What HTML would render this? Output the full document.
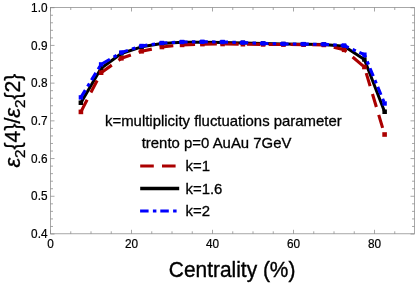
<!DOCTYPE html>
<html><head><meta charset="utf-8"><style>
html,body{margin:0;padding:0;background:#fff;}
svg{display:block;will-change:transform;font-family:"Liberation Sans",sans-serif;}
</style></head><body>
<svg width="415" height="283" viewBox="0 0 415 283">
<rect width="415" height="283" fill="#fff"/>
<g fill="none" stroke="#8a8a8a" stroke-width="0.75">
<rect x="50.5" y="7.5" width="364.0" height="226.3"/>
<path d="M50.50 233.8 v-4 M50.50 7.5 v4"/><path d="M70.75 233.8 v-2.5 M70.75 7.5 v2.5"/><path d="M91.00 233.8 v-2.5 M91.00 7.5 v2.5"/><path d="M111.25 233.8 v-2.5 M111.25 7.5 v2.5"/><path d="M131.50 233.8 v-4 M131.50 7.5 v4"/><path d="M151.75 233.8 v-2.5 M151.75 7.5 v2.5"/><path d="M172.00 233.8 v-2.5 M172.00 7.5 v2.5"/><path d="M192.25 233.8 v-2.5 M192.25 7.5 v2.5"/><path d="M212.50 233.8 v-4 M212.50 7.5 v4"/><path d="M232.75 233.8 v-2.5 M232.75 7.5 v2.5"/><path d="M253.00 233.8 v-2.5 M253.00 7.5 v2.5"/><path d="M273.25 233.8 v-2.5 M273.25 7.5 v2.5"/><path d="M293.50 233.8 v-4 M293.50 7.5 v4"/><path d="M313.75 233.8 v-2.5 M313.75 7.5 v2.5"/><path d="M334.00 233.8 v-2.5 M334.00 7.5 v2.5"/><path d="M354.25 233.8 v-2.5 M354.25 7.5 v2.5"/><path d="M374.50 233.8 v-4 M374.50 7.5 v4"/><path d="M394.75 233.8 v-2.5 M394.75 7.5 v2.5"/><path d="M50.5 234.00 h4 M414.5 234.00 h-4"/><path d="M50.5 226.46 h2.5 M414.5 226.46 h-2.5"/><path d="M50.5 218.91 h2.5 M414.5 218.91 h-2.5"/><path d="M50.5 211.37 h2.5 M414.5 211.37 h-2.5"/><path d="M50.5 203.83 h2.5 M414.5 203.83 h-2.5"/><path d="M50.5 196.28 h4 M414.5 196.28 h-4"/><path d="M50.5 188.74 h2.5 M414.5 188.74 h-2.5"/><path d="M50.5 181.20 h2.5 M414.5 181.20 h-2.5"/><path d="M50.5 173.65 h2.5 M414.5 173.65 h-2.5"/><path d="M50.5 166.11 h2.5 M414.5 166.11 h-2.5"/><path d="M50.5 158.57 h4 M414.5 158.57 h-4"/><path d="M50.5 151.02 h2.5 M414.5 151.02 h-2.5"/><path d="M50.5 143.48 h2.5 M414.5 143.48 h-2.5"/><path d="M50.5 135.94 h2.5 M414.5 135.94 h-2.5"/><path d="M50.5 128.39 h2.5 M414.5 128.39 h-2.5"/><path d="M50.5 120.85 h4 M414.5 120.85 h-4"/><path d="M50.5 113.31 h2.5 M414.5 113.31 h-2.5"/><path d="M50.5 105.76 h2.5 M414.5 105.76 h-2.5"/><path d="M50.5 98.22 h2.5 M414.5 98.22 h-2.5"/><path d="M50.5 90.68 h2.5 M414.5 90.68 h-2.5"/><path d="M50.5 83.13 h4 M414.5 83.13 h-4"/><path d="M50.5 75.59 h2.5 M414.5 75.59 h-2.5"/><path d="M50.5 68.05 h2.5 M414.5 68.05 h-2.5"/><path d="M50.5 60.50 h2.5 M414.5 60.50 h-2.5"/><path d="M50.5 52.96 h2.5 M414.5 52.96 h-2.5"/><path d="M50.5 45.42 h4 M414.5 45.42 h-4"/><path d="M50.5 37.87 h2.5 M414.5 37.87 h-2.5"/><path d="M50.5 30.33 h2.5 M414.5 30.33 h-2.5"/><path d="M50.5 22.79 h2.5 M414.5 22.79 h-2.5"/><path d="M50.5 15.24 h2.5 M414.5 15.24 h-2.5"/><path d="M50.5 7.70 h4 M414.5 7.70 h-4"/>
</g>
<g fill="#000" stroke="#000" stroke-width="0.2"><text transform="translate(50.50,247.90) scale(1,1.1)" font-size="11.8" text-anchor="middle" >0</text><text transform="translate(131.50,247.90) scale(1,1.1)" font-size="11.8" text-anchor="middle" >20</text><text transform="translate(212.50,247.90) scale(1,1.1)" font-size="11.8" text-anchor="middle" >40</text><text transform="translate(293.50,247.90) scale(1,1.1)" font-size="11.8" text-anchor="middle" >60</text><text transform="translate(374.50,247.90) scale(1,1.1)" font-size="11.8" text-anchor="middle" >80</text><text transform="translate(47.50,238.10) scale(1,1.1)" font-size="11.8" text-anchor="end" >0.4</text><text transform="translate(47.50,200.38) scale(1,1.1)" font-size="11.8" text-anchor="end" >0.5</text><text transform="translate(47.50,162.67) scale(1,1.1)" font-size="11.8" text-anchor="end" >0.6</text><text transform="translate(47.50,124.95) scale(1,1.1)" font-size="11.8" text-anchor="end" >0.7</text><text transform="translate(47.50,87.23) scale(1,1.1)" font-size="11.8" text-anchor="end" >0.8</text><text transform="translate(47.50,49.52) scale(1,1.1)" font-size="11.8" text-anchor="end" >0.9</text><text transform="translate(47.50,11.80) scale(1,1.1)" font-size="11.8" text-anchor="end" >1.0</text></g>
<polyline points="80.9,102.7 101.1,68.3 121.4,53.5 141.6,46.8 161.9,43.5 182.1,42.3 202.4,42.2 222.6,42.4 242.9,42.9 263.1,43.5 283.4,44.0 303.6,44.3 323.9,44.5 344.1,46.2 364.4,59.5 384.6,111.7" fill="none" stroke="#000" stroke-width="3.0" stroke-linejoin="round"/>
<rect x="78.6" y="100.5" width="4.5" height="4.5" fill="#000"/><rect x="98.9" y="66.0" width="4.5" height="4.5" fill="#000"/><rect x="119.1" y="51.2" width="4.5" height="4.5" fill="#000"/><rect x="139.4" y="44.5" width="4.5" height="4.5" fill="#000"/><rect x="159.6" y="41.2" width="4.5" height="4.5" fill="#000"/><rect x="179.9" y="40.0" width="4.5" height="4.5" fill="#000"/><rect x="200.1" y="40.0" width="4.5" height="4.5" fill="#000"/><rect x="220.4" y="40.1" width="4.5" height="4.5" fill="#000"/><rect x="240.6" y="40.6" width="4.5" height="4.5" fill="#000"/><rect x="260.9" y="41.2" width="4.5" height="4.5" fill="#000"/><rect x="281.1" y="41.8" width="4.5" height="4.5" fill="#000"/><rect x="301.4" y="42.0" width="4.5" height="4.5" fill="#000"/><rect x="321.6" y="42.2" width="4.5" height="4.5" fill="#000"/><rect x="341.9" y="44.0" width="4.5" height="4.5" fill="#000"/><rect x="362.1" y="57.2" width="4.5" height="4.5" fill="#000"/><rect x="382.4" y="109.5" width="4.5" height="4.5" fill="#000"/>
<polyline points="80.9,111.9 101.1,72.7 121.4,58.3 141.6,51.3 161.9,47.0 182.1,44.9 202.4,44.1 222.6,44.0 242.9,44.2 263.1,44.4 283.4,44.5 303.6,44.6 323.9,44.9 344.1,49.8 364.4,67.0 384.6,134.5" fill="none" stroke="#ab0000" stroke-width="3.1" stroke-dasharray="13.6 8.2" stroke-linejoin="round"/>
<rect x="78.6" y="109.6" width="4.6" height="4.6" fill="#ab0000"/><rect x="98.8" y="70.4" width="4.6" height="4.6" fill="#ab0000"/><rect x="119.1" y="56.0" width="4.6" height="4.6" fill="#ab0000"/><rect x="139.3" y="49.0" width="4.6" height="4.6" fill="#ab0000"/><rect x="159.6" y="44.7" width="4.6" height="4.6" fill="#ab0000"/><rect x="179.8" y="42.6" width="4.6" height="4.6" fill="#ab0000"/><rect x="200.1" y="41.8" width="4.6" height="4.6" fill="#ab0000"/><rect x="220.3" y="41.7" width="4.6" height="4.6" fill="#ab0000"/><rect x="240.6" y="41.9" width="4.6" height="4.6" fill="#ab0000"/><rect x="260.8" y="42.1" width="4.6" height="4.6" fill="#ab0000"/><rect x="281.1" y="42.2" width="4.6" height="4.6" fill="#ab0000"/><rect x="301.3" y="42.3" width="4.6" height="4.6" fill="#ab0000"/><rect x="321.6" y="42.6" width="4.6" height="4.6" fill="#ab0000"/><rect x="341.8" y="47.5" width="4.6" height="4.6" fill="#ab0000"/><rect x="362.1" y="64.7" width="4.6" height="4.6" fill="#ab0000"/><rect x="382.3" y="132.2" width="4.6" height="4.6" fill="#ab0000"/>
<polyline points="80.9,97.4 101.1,64.4 121.4,52.5 141.6,46.0 161.9,43.0 182.1,42.0 202.4,41.8 222.6,42.0 242.9,42.6 263.1,43.4 283.4,43.9 303.6,44.1 323.9,44.3 344.1,45.5 364.4,54.7 384.6,103.5" fill="none" stroke="#0000ff" stroke-width="3.1" stroke-dasharray="8.5 4.3 3.5 3.9" stroke-linejoin="round"/>
<rect x="78.7" y="95.2" width="4.4" height="4.4" fill="#0000ff"/><rect x="98.9" y="62.2" width="4.4" height="4.4" fill="#0000ff"/><rect x="119.2" y="50.3" width="4.4" height="4.4" fill="#0000ff"/><rect x="139.4" y="43.8" width="4.4" height="4.4" fill="#0000ff"/><rect x="159.7" y="40.8" width="4.4" height="4.4" fill="#0000ff"/><rect x="179.9" y="39.8" width="4.4" height="4.4" fill="#0000ff"/><rect x="200.2" y="39.6" width="4.4" height="4.4" fill="#0000ff"/><rect x="220.4" y="39.8" width="4.4" height="4.4" fill="#0000ff"/><rect x="240.7" y="40.4" width="4.4" height="4.4" fill="#0000ff"/><rect x="260.9" y="41.2" width="4.4" height="4.4" fill="#0000ff"/><rect x="281.2" y="41.7" width="4.4" height="4.4" fill="#0000ff"/><rect x="301.4" y="41.9" width="4.4" height="4.4" fill="#0000ff"/><rect x="321.7" y="42.1" width="4.4" height="4.4" fill="#0000ff"/><rect x="341.9" y="43.3" width="4.4" height="4.4" fill="#0000ff"/><rect x="362.2" y="52.5" width="4.4" height="4.4" fill="#0000ff"/><rect x="382.4" y="101.3" width="4.4" height="4.4" fill="#0000ff"/>
<g fill="#000" stroke="#000" stroke-width="0.3">
<text transform="translate(105.00,126.00) scale(1,0.977)" font-size="14.93" text-anchor="start" >k=multiplicity fluctuations parameter</text>
<text transform="translate(141.70,148.00) scale(1,0.977)" font-size="14.93" text-anchor="start" >trento p=0 AuAu 7GeV</text>
<text transform="translate(185.50,171.40) scale(1,0.977)" font-size="14.93" text-anchor="start" >k=1</text>
<text transform="translate(185.50,193.60) scale(1,0.977)" font-size="14.93" text-anchor="start" >k=1.6</text>
<text transform="translate(185.50,215.60) scale(1,0.977)" font-size="14.93" text-anchor="start" >k=2</text>
</g>
<path d="M140.2 166.0 H176" stroke="#ab0000" stroke-width="3.0" stroke-dasharray="13.6 8.2" fill="none"/>
<path d="M140.2 188.5 H179.2" stroke="#000" stroke-width="3.3" fill="none"/>
<path d="M140.1 210.9 H177" stroke="#0000ff" stroke-width="3.0" stroke-dasharray="8.5 4.3 3.5 3.9" fill="none"/>
<text transform="translate(232.10,276.80) scale(1,1.08)" font-size="20.9" text-anchor="middle" fill="#000" stroke="#000" stroke-width="0.35">Centrality (%)</text>
<text transform="translate(20.1,120.6) rotate(-90)" font-size="21.2" text-anchor="middle" fill="#000" stroke="#000" stroke-width="0.3"><tspan font-style="italic" font-size="22">ε</tspan><tspan font-size="15.2" dy="4.5">2</tspan><tspan dy="-4.5">{4}/</tspan><tspan font-style="italic" font-size="22">ε</tspan><tspan font-size="15.2" dy="4.5">2</tspan><tspan dy="-4.5">{2}</tspan></text>
</svg>
</body></html>
